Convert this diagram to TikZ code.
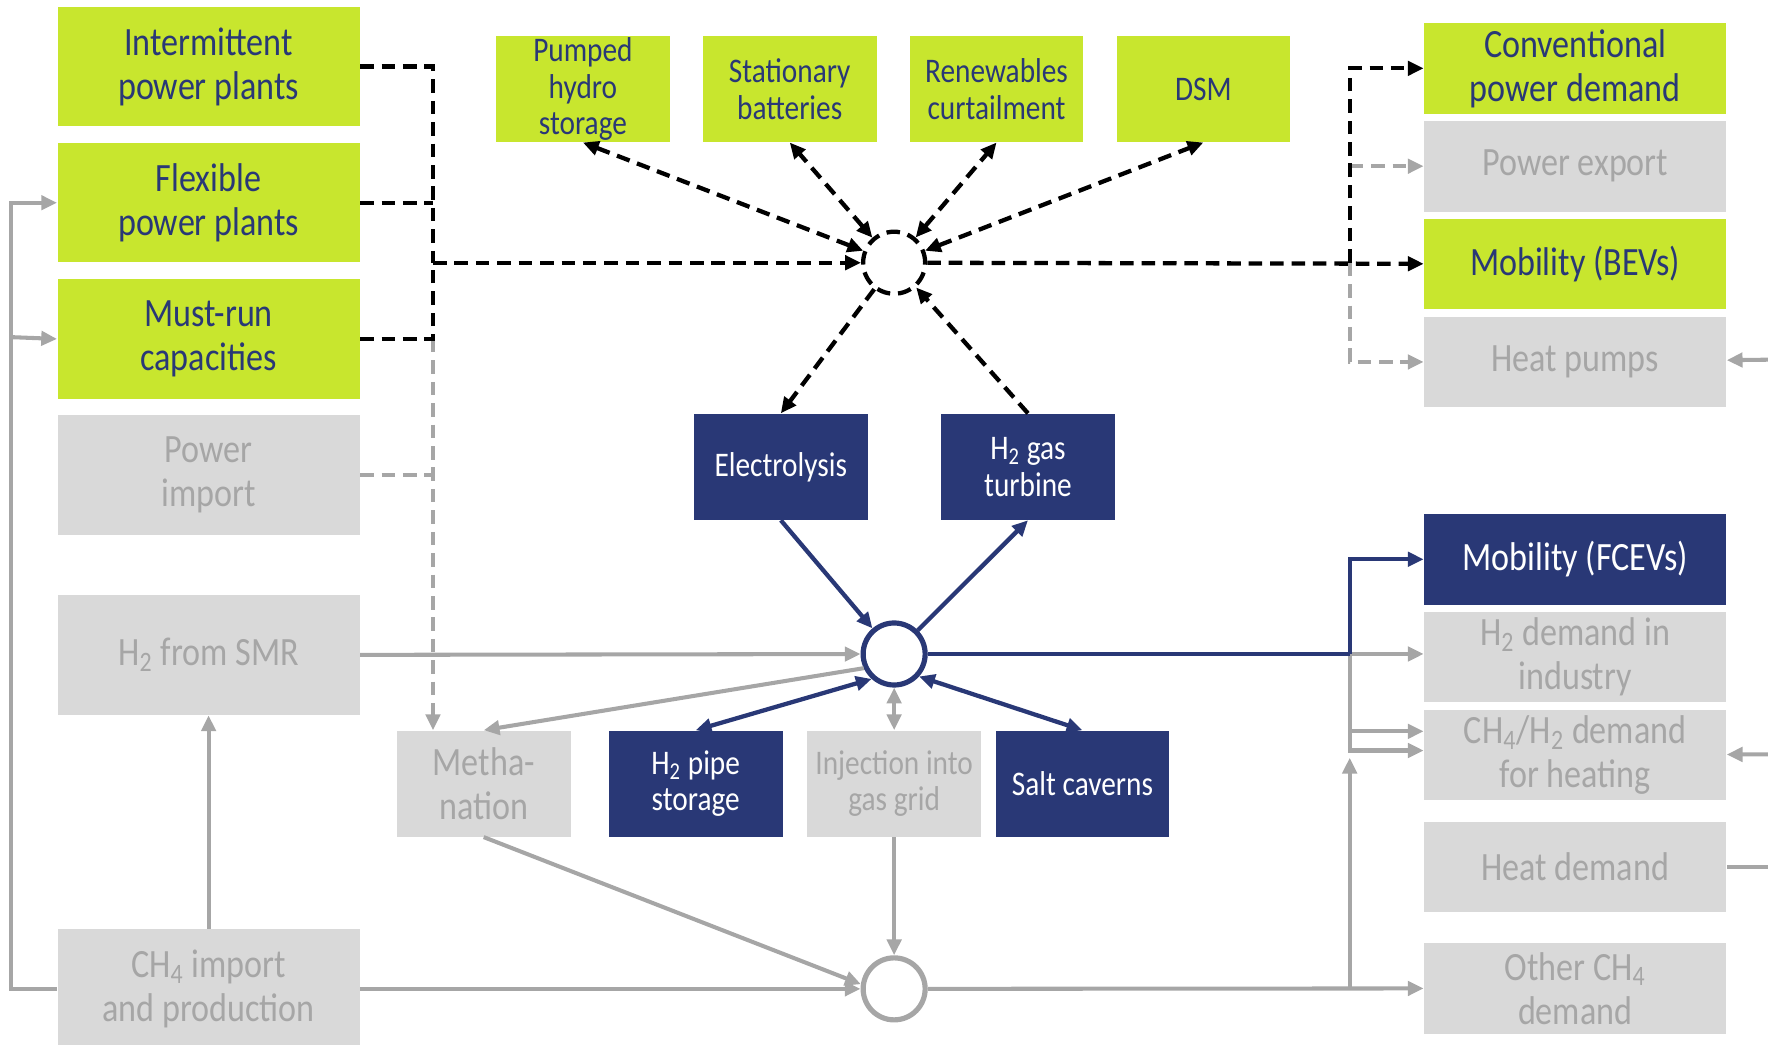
\documentclass[tikz,border=0pt]{standalone}
\usepackage{fontspec}
\setmainfont[FakeStretch=0.85]{Carlito}
\usetikzlibrary{positioning,arrows.meta}
\definecolor{limegreen}{RGB}{200,230,46}
\definecolor{navyblue}{RGB}{41,56,118}
\definecolor{boxgrey}{RGB}{217,217,217}
\definecolor{linegrey}{RGB}{166,166,166}
\newcommand{\largetext}{\fontsize{17.8}{19.5}\selectfont}
\newcommand{\smalltext}{\fontsize{15.3}{16.2}\selectfont}

\begin{document}
\begin{tikzpicture} [
  x=0.5pt, y=-0.5pt,
  >={Triangle[length=7pt,width=6.3pt]},
  every node/.style={inner sep=0pt, align=center},
  wide node/.style={rectangle, minimum width=134pt, minimum height=53pt, font=\largetext},
  demand node/.style={rectangle, minimum width=134pt, minimum height=40.2pt, font=\largetext},
  option node/.style={rectangle, minimum width=77pt, minimum height=47pt, font=\smalltext},
  lime box/.style={fill=limegreen, text=navyblue},
  grey box/.style={fill=boxgrey, text=linegrey},
  navy box/.style={fill=navyblue, text=white},
  hub/.style={circle, minimum size=27.5pt, line width=2.3pt, fill=white},
  power line/.style={draw=black, line width=1.9pt, dash pattern=on 6pt off 3.5pt},
  grey dash/.style={draw=linegrey, line width=1.8pt, dash pattern=on 6pt off 3.5pt},
  grey line/.style={draw=linegrey, line width=1.8pt},
  h2 line/.style={draw=navyblue, line width=1.9pt},
  ]

  \useasboundingbox (0,0) rectangle (1568,926);

  \node[wide node, lime box] (intermittent) at (185,59) {Intermittent\\power plants};
  \node[wide node, lime box, below=7pt of intermittent] (flexible) {Flexible\\power plants};
  \node[wide node, lime box, below=7pt of flexible] (mustrun) {Must-run\\capacities};
  \node[wide node, grey box, below=7pt of mustrun] (powimport) {Power\\import};
  \node[wide node, grey box] (smr) at (185,581) {H\textsubscript{2} from SMR};
  \node[wide node, grey box] (ch4imp) at (185,877) {CH\textsubscript{4} import\\and production};

  \node[option node, lime box] (pumped) at (517,79) {Pumped\\hydro\\storage};
  \node[option node, lime box, right=14.3pt of pumped] (batteries) {Stationary\\batteries};
  \node[option node, lime box, right=14.3pt of batteries] (curtail) {Renewables\\curtailment};
  \node[option node, lime box, right=14.3pt of curtail] (dsm) {DSM};

  \node[hub, power line] (phub) at (793,233) {};
  \node[option node, navy box] (electrolysis) at (692.5,414) {Electrolysis};
  \node[option node, navy box, right=32.2pt of electrolysis] (turbine) {H\textsubscript{2} gas\\turbine};
  \node[hub, draw=navyblue] (h2hub) at (793,580) {};
  \node[option node, grey box, font=\largetext] (meth) at (429,695) {Metha-\\nation};
  \node[option node, navy box] (pipe) at (617,695) {H\textsubscript{2} pipe\\storage};
  \node[option node, grey box] (injection) at (793,695) {Injection into\\gas grid};
  \node[option node, navy box] (caverns) at (960,695) {Salt caverns};
  \node[hub, draw=linegrey] (ch4hub) at (793,877) {};

  \node[demand node, lime box] (convdem) at (1397,60.6) {Conventional\\power demand};
  \node[demand node, grey box, below=2.8pt of convdem] (powexport) {Power export};
  \node[demand node, lime box, below=2.8pt of powexport] (bev) {Mobility (BEVs)};
  \node[demand node, grey box, below=2.8pt of bev] (heatpump) {Heat pumps};
  \node[demand node, navy box] (fcev) at (1397,496) {Mobility (FCEVs)};
  \node[demand node, grey box, below=2.8pt of fcev] (h2ind) {H\textsubscript{2} demand in\\industry};
  \node[demand node, grey box, below=2.8pt of h2ind] (heating) {CH\textsubscript{4}/H\textsubscript{2} demand\\for heating};
  \node[demand node, grey box] (heatdem) at (1397,769) {Heat demand};
  \node[demand node, grey box] (otherch4) at (1397,876.5) {Other CH\textsubscript{4}\\demand};

  \coordinate (pbus) at (384,233);
  \coordinate (ebus) at (1197,233);
  \coordinate (hbus) at (1197,580);
  \coordinate (cbus) at (1197,877);
  \coordinate (cup) at (1197,672);
  \coordinate (lbus) at (10,299);
  \coordinate (hpin) at (1568,319);
  \coordinate (htin) at (1568,669);
  \coordinate (hdout) at (1568,769);

  % power
  \draw[grey dash] (powimport) -- (powimport -| pbus);
  \draw[grey dash, ->] (mustrun -| pbus) -- (meth.north -| pbus);
  \draw[power line] (intermittent) -| (pbus);
  \draw[power line] (flexible) -- (flexible -| pbus);
  \draw[power line] (mustrun) -| (pbus);
  \draw[power line, ->] (pbus) -- (phub);
  \foreach \target in {pumped, batteries, curtail, dsm}
    \draw[power line, <->] (phub) -- (\target.south);
  \draw[power line, ->] (phub) -- (electrolysis.north);
  \draw[power line, ->] (turbine.north) -- (phub);
  \draw[grey dash, ->] (ebus |- powexport) -- (powexport);
  \draw[grey dash, ->] (ebus) |- (heatpump);
  \draw[power line, ->] (phub) -- (bev);
  \draw[power line, ->] (ebus) |- (convdem);
  \draw[grey line, ->] (hpin) -- (heatpump);

  % hydrogen
  \draw[h2 line, ->] (electrolysis.south) -- (h2hub);
  \draw[h2 line, ->] (h2hub) -- (turbine.south);
  \draw[grey line, ->] (smr) -- (h2hub);
  \draw[grey line, ->] (h2hub.205) -- (meth.north);
  \draw[h2 line, <->] (h2hub.228) -- (pipe.north);
  \draw[grey line, <->] (h2hub) -- (injection);
  \draw[h2 line, <->] (h2hub.318) -- (caverns.north);
  \draw[grey line, ->] (hbus) -- (hbus -| h2ind.west);
  \draw[grey line, ->] (hbus) |- ([yshift=10.5pt]heating.west);
  \draw[grey line, ->] (hbus) |- ([yshift=2pt]heating.west);
  \draw[h2 line] (h2hub) -- (hbus);
  \draw[h2 line, ->] (hbus) |- (fcev);

  % methane
  \draw[grey line, ->] (ch4imp) -- (smr);
  \draw[grey line, ->] (ch4imp.west) -| (lbus) |- (flexible.west);
  \draw[grey line, ->] (lbus) -- (mustrun.west);
  \draw[grey line, ->] (ch4imp) -- (ch4hub);
  \draw[grey line, ->] (meth.south) -- (ch4hub.172);
  \draw[grey line, ->] (injection) -- (ch4hub);
  \draw[grey line, ->] (ch4hub) -- (otherch4);
  \draw[grey line, ->] (cbus) -- (cup);
  \draw[grey line, ->] (htin) -- (heating);
  \draw[grey line] (heatdem) -- (hdout);
\end{tikzpicture}
\end{document}
